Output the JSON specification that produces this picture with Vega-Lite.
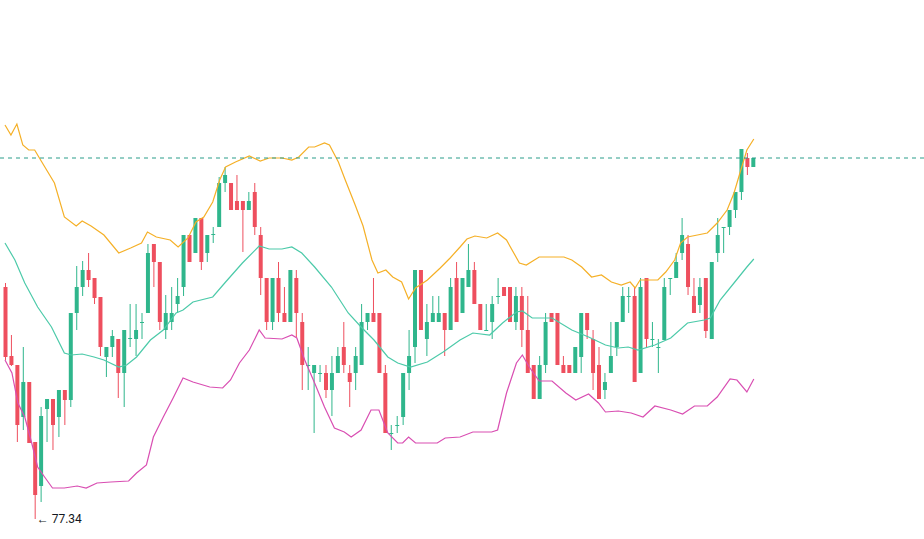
{
  "$schema": "https://vega.github.io/schema/vega-lite/v6.json",
  "width": 924,
  "height": 539,
  "autosize": {"type": "none"},
  "padding": 0,
  "background": "white",
  "config": {"view": {"stroke": null}},
  "datasets": {
    "candles": [
      {"i":0,"o":79.66,"h":79.70,"l":78.93,"c":78.96},
      {"i":1,"o":78.97,"h":79.18,"l":78.87,"c":78.88},
      {"i":2,"o":78.88,"h":78.88,"l":78.11,"c":78.28},
      {"i":3,"o":78.36,"h":79.06,"l":78.23,"c":78.71},
      {"i":4,"o":78.71,"h":78.71,"l":78.10,"c":78.10},
      {"i":5,"o":78.11,"h":78.11,"l":77.34,"c":77.58},
      {"i":6,"o":77.67,"h":78.46,"l":77.51,"c":78.37},
      {"i":7,"o":78.44,"h":78.54,"l":78.11,"c":78.54},
      {"i":8,"o":78.54,"h":78.54,"l":78.03,"c":78.28},
      {"i":9,"o":78.36,"h":78.63,"l":78.16,"c":78.63},
      {"i":10,"o":78.63,"h":78.63,"l":78.28,"c":78.53},
      {"i":11,"o":78.53,"h":79.40,"l":78.46,"c":79.40},
      {"i":12,"o":79.40,"h":79.87,"l":79.23,"c":79.66},
      {"i":13,"o":79.66,"h":79.92,"l":79.57,"c":79.83},
      {"i":14,"o":79.83,"h":80.00,"l":79.66,"c":79.73},
      {"i":15,"o":79.75,"h":79.75,"l":79.49,"c":79.55},
      {"i":16,"o":79.56,"h":79.56,"l":78.97,"c":79.06},
      {"i":17,"o":78.96,"h":79.06,"l":78.76,"c":79.06},
      {"i":18,"o":79.06,"h":79.23,"l":78.96,"c":79.17},
      {"i":19,"o":79.14,"h":79.14,"l":78.55,"c":78.80},
      {"i":20,"o":78.80,"h":79.23,"l":78.46,"c":79.23},
      {"i":21,"o":79.14,"h":79.49,"l":79.06,"c":79.15},
      {"i":22,"o":79.14,"h":79.49,"l":78.97,"c":79.23},
      {"i":23,"o":79.30,"h":79.40,"l":79.14,"c":79.31},
      {"i":24,"o":79.40,"h":80.09,"l":79.40,"c":80.00},
      {"i":25,"o":80.09,"h":80.09,"l":79.66,"c":79.91},
      {"i":26,"o":79.91,"h":79.91,"l":79.23,"c":79.31},
      {"i":27,"o":79.23,"h":79.58,"l":79.14,"c":79.40},
      {"i":28,"o":79.31,"h":79.66,"l":79.23,"c":79.40},
      {"i":29,"o":79.49,"h":79.75,"l":79.40,"c":79.57},
      {"i":30,"o":79.66,"h":80.18,"l":79.57,"c":80.18},
      {"i":31,"o":80.18,"h":80.18,"l":79.91,"c":79.91},
      {"i":32,"o":80.00,"h":80.35,"l":80.00,"c":80.35},
      {"i":33,"o":80.35,"h":80.35,"l":79.83,"c":79.91},
      {"i":34,"o":80.00,"h":80.18,"l":79.91,"c":80.18},
      {"i":35,"o":80.18,"h":80.26,"l":80.10,"c":80.19},
      {"i":36,"o":80.26,"h":80.76,"l":80.26,"c":80.70},
      {"i":37,"o":80.70,"h":80.86,"l":80.61,"c":80.78},
      {"i":38,"o":80.70,"h":80.70,"l":80.43,"c":80.43},
      {"i":39,"o":80.52,"h":80.78,"l":80.43,"c":80.43},
      {"i":40,"o":80.52,"h":80.52,"l":80.01,"c":80.43},
      {"i":41,"o":80.43,"h":80.61,"l":80.43,"c":80.52},
      {"i":42,"o":80.61,"h":80.70,"l":80.18,"c":80.26},
      {"i":43,"o":80.18,"h":80.26,"l":79.58,"c":79.75},
      {"i":44,"o":79.75,"h":79.75,"l":79.23,"c":79.31},
      {"i":45,"o":79.31,"h":79.75,"l":79.23,"c":79.75},
      {"i":46,"o":79.75,"h":79.91,"l":79.31,"c":79.40},
      {"i":47,"o":79.40,"h":79.66,"l":79.31,"c":79.31},
      {"i":48,"o":79.31,"h":79.83,"l":79.31,"c":79.83},
      {"i":49,"o":79.75,"h":79.83,"l":79.16,"c":79.40},
      {"i":50,"o":79.31,"h":79.40,"l":78.63,"c":78.88},
      {"i":51,"o":78.87,"h":79.06,"l":78.63,"c":78.88},
      {"i":52,"o":78.80,"h":78.88,"l":78.20,"c":78.88},
      {"i":53,"o":78.79,"h":78.88,"l":78.71,"c":78.80},
      {"i":54,"o":78.80,"h":78.88,"l":78.55,"c":78.63},
      {"i":55,"o":78.63,"h":78.97,"l":78.37,"c":78.80},
      {"i":56,"o":78.80,"h":79.06,"l":78.80,"c":78.97},
      {"i":57,"o":79.06,"h":79.31,"l":78.80,"c":78.88},
      {"i":58,"o":78.80,"h":78.88,"l":78.46,"c":78.71},
      {"i":59,"o":78.80,"h":79.06,"l":78.63,"c":78.97},
      {"i":60,"o":78.88,"h":79.49,"l":78.88,"c":79.31},
      {"i":61,"o":79.31,"h":79.40,"l":79.23,"c":79.40},
      {"i":62,"o":79.40,"h":79.75,"l":79.31,"c":79.31},
      {"i":63,"o":79.40,"h":79.40,"l":78.80,"c":78.80},
      {"i":64,"o":78.80,"h":78.88,"l":78.20,"c":78.20},
      {"i":65,"o":78.19,"h":78.28,"l":78.03,"c":78.20},
      {"i":66,"o":78.27,"h":78.37,"l":78.20,"c":78.28},
      {"i":67,"o":78.36,"h":78.80,"l":78.28,"c":78.80},
      {"i":68,"o":78.80,"h":79.23,"l":78.63,"c":78.97},
      {"i":69,"o":79.06,"h":79.83,"l":78.90,"c":79.83},
      {"i":70,"o":79.83,"h":79.83,"l":79.23,"c":79.23},
      {"i":71,"o":79.14,"h":79.49,"l":78.97,"c":79.31},
      {"i":72,"o":79.31,"h":79.57,"l":79.31,"c":79.40},
      {"i":73,"o":79.31,"h":79.57,"l":79.31,"c":79.40},
      {"i":74,"o":79.40,"h":79.40,"l":78.97,"c":79.23},
      {"i":75,"o":79.23,"h":79.75,"l":79.23,"c":79.66},
      {"i":76,"o":79.75,"h":79.91,"l":79.31,"c":79.31},
      {"i":77,"o":79.40,"h":79.75,"l":79.40,"c":79.75},
      {"i":78,"o":79.66,"h":80.09,"l":79.66,"c":79.83},
      {"i":79,"o":79.83,"h":79.91,"l":79.49,"c":79.49},
      {"i":80,"o":79.49,"h":79.49,"l":79.23,"c":79.23},
      {"i":81,"o":79.22,"h":79.49,"l":79.22,"c":79.23},
      {"i":82,"o":79.31,"h":79.57,"l":79.14,"c":79.49},
      {"i":83,"o":79.56,"h":79.75,"l":79.49,"c":79.57},
      {"i":84,"o":79.66,"h":79.66,"l":79.57,"c":79.57},
      {"i":85,"o":79.66,"h":79.66,"l":79.31,"c":79.31},
      {"i":86,"o":79.31,"h":79.66,"l":79.23,"c":79.57},
      {"i":87,"o":79.57,"h":79.66,"l":79.06,"c":79.23},
      {"i":88,"o":79.23,"h":79.57,"l":78.80,"c":78.80},
      {"i":89,"o":78.88,"h":78.88,"l":78.54,"c":78.54},
      {"i":90,"o":78.54,"h":78.97,"l":78.54,"c":78.88},
      {"i":91,"o":78.88,"h":79.40,"l":78.80,"c":79.31},
      {"i":92,"o":79.40,"h":79.40,"l":79.31,"c":79.31},
      {"i":93,"o":79.40,"h":79.40,"l":78.88,"c":78.88},
      {"i":94,"o":78.88,"h":78.97,"l":78.80,"c":78.80},
      {"i":95,"o":78.88,"h":78.88,"l":78.80,"c":78.80},
      {"i":96,"o":78.80,"h":79.06,"l":78.80,"c":79.06},
      {"i":97,"o":78.96,"h":79.40,"l":78.80,"c":79.40},
      {"i":98,"o":79.40,"h":79.40,"l":79.14,"c":79.23},
      {"i":99,"o":79.14,"h":79.23,"l":78.63,"c":78.80},
      {"i":100,"o":78.88,"h":79.06,"l":78.54,"c":78.54},
      {"i":101,"o":78.63,"h":78.80,"l":78.54,"c":78.71},
      {"i":102,"o":78.80,"h":79.31,"l":78.80,"c":78.97},
      {"i":103,"o":79.06,"h":79.31,"l":78.97,"c":79.31},
      {"i":104,"o":79.31,"h":79.66,"l":79.31,"c":79.57},
      {"i":105,"o":79.56,"h":79.66,"l":79.40,"c":79.57},
      {"i":106,"o":79.57,"h":79.66,"l":78.71,"c":78.71},
      {"i":107,"o":78.80,"h":79.75,"l":78.80,"c":79.66},
      {"i":108,"o":79.75,"h":79.75,"l":79.06,"c":79.14},
      {"i":109,"o":79.13,"h":79.31,"l":79.06,"c":79.14},
      {"i":110,"o":79.05,"h":79.14,"l":78.80,"c":79.06},
      {"i":111,"o":79.13,"h":79.75,"l":79.13,"c":79.66},
      {"i":112,"o":79.74,"h":79.75,"l":79.58,"c":79.75},
      {"i":113,"o":79.75,"h":80.00,"l":79.75,"c":79.91},
      {"i":114,"o":80.00,"h":80.35,"l":79.93,"c":80.18},
      {"i":115,"o":80.09,"h":80.18,"l":79.58,"c":79.66},
      {"i":116,"o":79.57,"h":79.75,"l":79.40,"c":79.40},
      {"i":117,"o":79.48,"h":79.75,"l":79.40,"c":79.66},
      {"i":118,"o":79.75,"h":79.75,"l":79.15,"c":79.22},
      {"i":119,"o":79.14,"h":79.91,"l":79.14,"c":79.91},
      {"i":120,"o":80.00,"h":80.35,"l":79.91,"c":80.18},
      {"i":121,"o":80.25,"h":80.26,"l":80.00,"c":80.26},
      {"i":122,"o":80.26,"h":80.43,"l":80.18,"c":80.43},
      {"i":123,"o":80.43,"h":80.61,"l":80.35,"c":80.61},
      {"i":124,"o":80.61,"h":81.04,"l":80.53,"c":81.04},
      {"i":125,"o":80.95,"h":81.00,"l":80.78,"c":80.86},
      {"i":126,"o":80.86,"h":80.95,"l":80.86,"c":80.95}
    ],
    "bands": [
      {"band":"upper","t":0,"v":81.28},{"band":"upper","t":1,"v":81.18},{"band":"upper","t":2,"v":81.29},{"band":"upper","t":3,"v":81.08},
      {"band":"upper","t":4,"v":81.03},{"band":"upper","t":5,"v":81.03},{"band":"upper","t":6,"v":80.93},{"band":"upper","t":8.33,"v":80.70},
      {"band":"upper","t":10,"v":80.36},{"band":"upper","t":12,"v":80.27},{"band":"upper","t":13,"v":80.32},{"band":"upper","t":14.5,"v":80.27},
      {"band":"upper","t":16.67,"v":80.18},{"band":"upper","t":19.17,"v":80.00},{"band":"upper","t":21.17,"v":80.05},{"band":"upper","t":23,"v":80.10},
      {"band":"upper","t":24,"v":80.21},{"band":"upper","t":25.5,"v":80.16},{"band":"upper","t":27.83,"v":80.13},{"band":"upper","t":29.17,"v":80.06},
      {"band":"upper","t":30.83,"v":80.15},{"band":"upper","t":32.17,"v":80.31},{"band":"upper","t":33.5,"v":80.36},{"band":"upper","t":35,"v":80.51},
      {"band":"upper","t":36.17,"v":80.73},{"band":"upper","t":37.17,"v":80.86},{"band":"upper","t":38.83,"v":80.91},{"band":"upper","t":41.17,"v":80.97},
      {"band":"upper","t":43,"v":80.92},{"band":"upper","t":44.5,"v":80.95},{"band":"upper","t":46.67,"v":80.95},{"band":"upper","t":48.33,"v":80.93},
      {"band":"upper","t":49.5,"v":80.96},{"band":"upper","t":51.17,"v":81.06},{"band":"upper","t":52.17,"v":81.06},{"band":"upper","t":53.83,"v":81.10},
      {"band":"upper","t":54.67,"v":81.08},{"band":"upper","t":56.17,"v":80.91},{"band":"upper","t":57.33,"v":80.73},{"band":"upper","t":59,"v":80.48},
      {"band":"upper","t":60.33,"v":80.27},{"band":"upper","t":61.83,"v":79.93},{"band":"upper","t":62.83,"v":79.80},{"band":"upper","t":64.17,"v":79.83},
      {"band":"upper","t":65.33,"v":79.76},{"band":"upper","t":66.83,"v":79.71},{"band":"upper","t":68,"v":79.54},{"band":"upper","t":69.17,"v":79.65},
      {"band":"upper","t":71.17,"v":79.73},{"band":"upper","t":73.33,"v":79.85},{"band":"upper","t":75,"v":79.95},{"band":"upper","t":76.67,"v":80.06},
      {"band":"upper","t":77.83,"v":80.14},{"band":"upper","t":79.17,"v":80.17},{"band":"upper","t":81.17,"v":80.15},{"band":"upper","t":83,"v":80.20},
      {"band":"upper","t":84.5,"v":80.13},{"band":"upper","t":86.67,"v":79.90},{"band":"upper","t":87.83,"v":79.88},{"band":"upper","t":90,"v":79.96},
      {"band":"upper","t":94.17,"v":79.96},{"band":"upper","t":95.5,"v":79.93},{"band":"upper","t":97.17,"v":79.86},{"band":"upper","t":98.83,"v":79.76},
      {"band":"upper","t":100.5,"v":79.78},{"band":"upper","t":102.17,"v":79.71},{"band":"upper","t":103.83,"v":79.68},{"band":"upper","t":105.33,"v":79.71},
      {"band":"upper","t":106.17,"v":79.65},{"band":"upper","t":107,"v":79.73},{"band":"upper","t":110,"v":79.73},{"band":"upper","t":111.33,"v":79.81},
      {"band":"upper","t":112.83,"v":79.93},{"band":"upper","t":113.83,"v":80.10},{"band":"upper","t":115,"v":80.16},{"band":"upper","t":116.67,"v":80.18},
      {"band":"upper","t":118.33,"v":80.20},{"band":"upper","t":120,"v":80.30},{"band":"upper","t":121.67,"v":80.43},{"band":"upper","t":122.83,"v":80.60},
      {"band":"upper","t":123.83,"v":80.80},{"band":"upper","t":125,"v":81.03},{"band":"upper","t":126.17,"v":81.14},

      {"band":"middle","t":0,"v":80.10},{"band":"middle","t":1.67,"v":79.93},{"band":"middle","t":3.33,"v":79.70},{"band":"middle","t":5.5,"v":79.46},
      {"band":"middle","t":7.83,"v":79.26},{"band":"middle","t":10,"v":79.00},{"band":"middle","t":11.17,"v":78.98},{"band":"middle","t":13,"v":78.99},
      {"band":"middle","t":15,"v":78.96},{"band":"middle","t":16.67,"v":78.93},{"band":"middle","t":19.17,"v":78.86},{"band":"middle","t":20.5,"v":78.88},
      {"band":"middle","t":22.17,"v":78.96},{"band":"middle","t":24.5,"v":79.13},{"band":"middle","t":26.67,"v":79.23},{"band":"middle","t":28.83,"v":79.40},
      {"band":"middle","t":30,"v":79.43},{"band":"middle","t":31.67,"v":79.51},{"band":"middle","t":35,"v":79.56},{"band":"middle","t":37.17,"v":79.71},
      {"band":"middle","t":40,"v":79.90},{"band":"middle","t":42.83,"v":80.07},{"band":"middle","t":44.5,"v":80.04},{"band":"middle","t":46.67,"v":80.04},
      {"band":"middle","t":48.33,"v":80.06},{"band":"middle","t":50,"v":80.00},{"band":"middle","t":52.17,"v":79.86},{"band":"middle","t":55,"v":79.66},
      {"band":"middle","t":57.83,"v":79.40},{"band":"middle","t":60,"v":79.26},{"band":"middle","t":62.17,"v":79.13},{"band":"middle","t":64.5,"v":78.96},
      {"band":"middle","t":66.17,"v":78.90},{"band":"middle","t":68.33,"v":78.86},{"band":"middle","t":71.17,"v":78.91},{"band":"middle","t":73.83,"v":79.01},
      {"band":"middle","t":76.67,"v":79.13},{"band":"middle","t":78.83,"v":79.20},{"band":"middle","t":81.67,"v":79.18},{"band":"middle","t":83.83,"v":79.30},
      {"band":"middle","t":86.17,"v":79.41},{"band":"middle","t":87.17,"v":79.42},{"band":"middle","t":88.83,"v":79.35},{"band":"middle","t":92.17,"v":79.35},
      {"band":"middle","t":95.5,"v":79.23},{"band":"middle","t":98.33,"v":79.16},{"band":"middle","t":101.17,"v":79.08},{"band":"middle","t":103.33,"v":79.05},
      {"band":"middle","t":105,"v":79.06},{"band":"middle","t":106.67,"v":79.03},{"band":"middle","t":109.5,"v":79.08},{"band":"middle","t":112.17,"v":79.15},
      {"band":"middle","t":115,"v":79.30},{"band":"middle","t":117.83,"v":79.33},{"band":"middle","t":118.83,"v":79.35},{"band":"middle","t":120.5,"v":79.53},
      {"band":"middle","t":122.83,"v":79.70},{"band":"middle","t":125,"v":79.86},{"band":"middle","t":126.17,"v":79.94},

      {"band":"lower","t":0,"v":78.93},{"band":"lower","t":1.17,"v":78.80},{"band":"lower","t":2.17,"v":78.50},{"band":"lower","t":3.33,"v":78.36},
      {"band":"lower","t":4.5,"v":78.10},{"band":"lower","t":5.5,"v":77.86},{"band":"lower","t":6.67,"v":77.76},{"band":"lower","t":8,"v":77.65},
      {"band":"lower","t":10,"v":77.65},{"band":"lower","t":12.17,"v":77.67},{"band":"lower","t":13.67,"v":77.65},{"band":"lower","t":15.5,"v":77.70},
      {"band":"lower","t":17.83,"v":77.71},{"band":"lower","t":20.83,"v":77.72},{"band":"lower","t":22.17,"v":77.80},{"band":"lower","t":23.83,"v":77.88},
      {"band":"lower","t":25,"v":78.16},{"band":"lower","t":26.67,"v":78.36},{"band":"lower","t":28.33,"v":78.55},{"band":"lower","t":30,"v":78.75},
      {"band":"lower","t":31.67,"v":78.71},{"band":"lower","t":34.5,"v":78.66},{"band":"lower","t":36.67,"v":78.65},{"band":"lower","t":38,"v":78.73},
      {"band":"lower","t":39.5,"v":78.90},{"band":"lower","t":41.17,"v":79.03},{"band":"lower","t":42.83,"v":79.23},{"band":"lower","t":43.83,"v":79.15},
      {"band":"lower","t":46.67,"v":79.14},{"band":"lower","t":48.33,"v":79.18},{"band":"lower","t":49.17,"v":79.15},{"band":"lower","t":50.5,"v":78.93},
      {"band":"lower","t":52.17,"v":78.70},{"band":"lower","t":53.83,"v":78.46},{"band":"lower","t":55.5,"v":78.25},{"band":"lower","t":57.17,"v":78.21},
      {"band":"lower","t":58.33,"v":78.16},{"band":"lower","t":60,"v":78.23},{"band":"lower","t":61.67,"v":78.43},{"band":"lower","t":63,"v":78.43},
      {"band":"lower","t":64.5,"v":78.20},{"band":"lower","t":66.17,"v":78.10},{"band":"lower","t":67,"v":78.10},{"band":"lower","t":68,"v":78.16},
      {"band":"lower","t":69.17,"v":78.10},{"band":"lower","t":72.83,"v":78.10},{"band":"lower","t":74.17,"v":78.15},{"band":"lower","t":76.67,"v":78.16},
      {"band":"lower","t":78.83,"v":78.21},{"band":"lower","t":82,"v":78.21},{"band":"lower","t":83,"v":78.23},{"band":"lower","t":84.5,"v":78.60},
      {"band":"lower","t":86.17,"v":78.90},{"band":"lower","t":87.17,"v":78.98},{"band":"lower","t":88.33,"v":78.86},{"band":"lower","t":90,"v":78.72},
      {"band":"lower","t":92.17,"v":78.72},{"band":"lower","t":94.5,"v":78.60},{"band":"lower","t":96.17,"v":78.53},{"band":"lower","t":98.33,"v":78.59},
      {"band":"lower","t":100,"v":78.50},{"band":"lower","t":101.17,"v":78.41},{"band":"lower","t":103.33,"v":78.42},{"band":"lower","t":105.5,"v":78.40},
      {"band":"lower","t":107.5,"v":78.36},{"band":"lower","t":109.5,"v":78.47},{"band":"lower","t":112.17,"v":78.43},{"band":"lower","t":114.17,"v":78.39},
      {"band":"lower","t":116.17,"v":78.47},{"band":"lower","t":118.33,"v":78.47},{"band":"lower","t":120,"v":78.56},{"band":"lower","t":122.17,"v":78.74},
      {"band":"lower","t":123.33,"v":78.73},{"band":"lower","t":125,"v":78.61},{"band":"lower","t":126.17,"v":78.74}
    ]
  },
  "layer": [
    {
      "data": {"name": "candles"},
      "mark": {"type": "rule", "strokeWidth": 1, "xOffset": 0.5, "clip": true},
      "encoding": {
        "x": {"field": "i", "type": "quantitative", "scale": {"domain": [0, 154], "nice": false, "zero": false}, "axis": null},
        "y": {"field": "l", "type": "quantitative", "scale": {"domain": [77.14, 82.53], "nice": false, "zero": false}, "axis": null},
        "y2": {"field": "h"},
        "color": {"condition": {"test": "datum.c >= datum.o", "value": "#2fb68c"}, "value": "#ee4f5e"}
      }
    },
    {
      "data": {"name": "candles"},
      "mark": {"type": "bar", "width": 4, "xOffset": 0.5, "clip": true},
      "encoding": {
        "x": {"field": "i", "type": "quantitative"},
        "y": {"field": "o", "type": "quantitative"},
        "y2": {"field": "c"},
        "color": {"condition": {"test": "datum.c >= datum.o", "value": "#2fb68c"}, "value": "#ee4f5e"}
      }
    },
    {
      "data": {"name": "bands"},
      "mark": {"type": "line", "strokeWidth": 1.2, "clip": true},
      "encoding": {
        "x": {"field": "t", "type": "quantitative"},
        "y": {"field": "v", "type": "quantitative"},
        "color": {"field": "band", "type": "nominal", "scale": {"domain": ["upper", "middle", "lower"], "range": ["#f5b027", "#4ccaa9", "#d94eb2"]}, "legend": null}
      }
    },
    {
      "data": {"name": "candles"},
      "transform": [{"filter": "datum.i == 126"}],
      "mark": {"type": "rule", "strokeWidth": 1, "strokeDash": [4, 4], "color": "#2a9d8a"},
      "encoding": {
        "y": {"field": "c", "type": "quantitative"}
      }
    },
    {
      "data": {"name": "candles"},
      "transform": [{"filter": "datum.i == 5"}],
      "mark": {"type": "text", "align": "left", "baseline": "middle", "dx": 2, "dy": 0, "fontSize": 12, "font": "Roboto", "color": "#131722"},
      "encoding": {
        "x": {"field": "i", "type": "quantitative"},
        "y": {"field": "l", "type": "quantitative"},
        "text": {"value": "← 77.34"}
      }
    }
  ]
}
